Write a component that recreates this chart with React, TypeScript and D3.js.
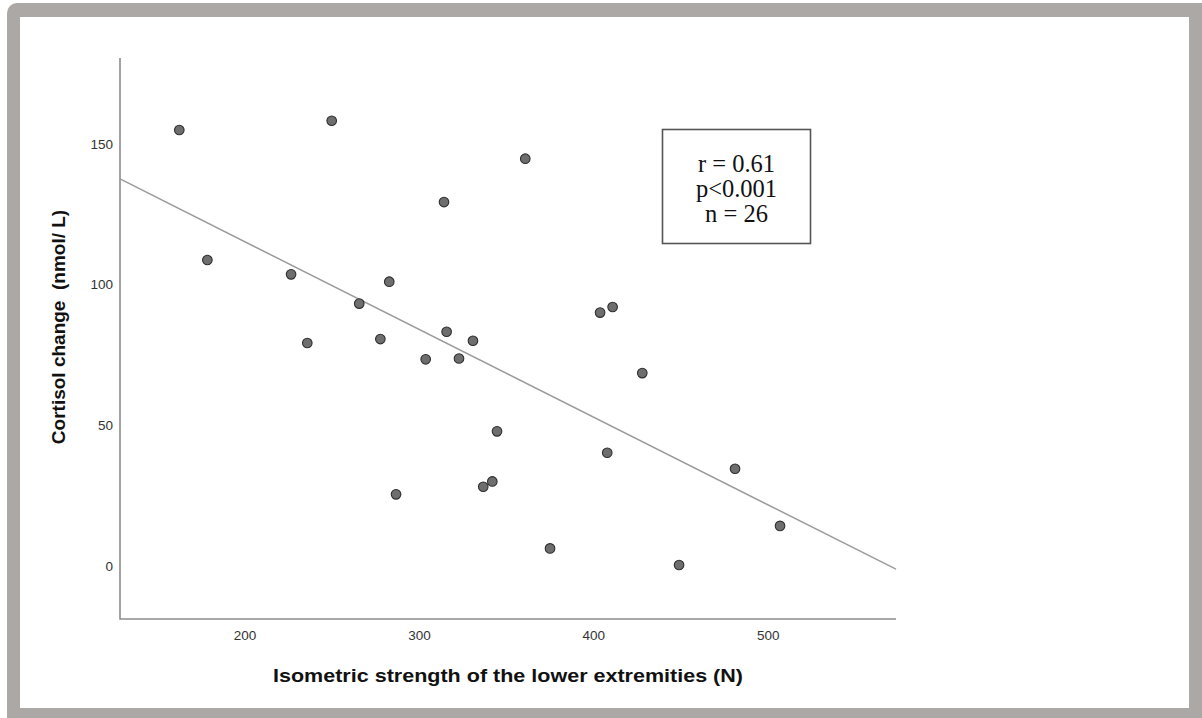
import React, { useMemo } from 'react';
import * as d3 from 'd3';

// values
const strength = [
  162.3, 249.7, 178.4, 226.4, 282.7, 265.5, 235.7, 277.6, 315.6, 330.7, 303.6, 322.7, 344.5,
  341.8, 336.6, 286.6, 360.7, 403.6, 410.8, 427.8, 407.7, 481.0, 506.8, 374.9, 448.9, 314.1,
];
const cortisol = [
  155.0, 158.3, 108.8, 103.7, 101.1, 93.3, 79.3, 80.7, 83.3, 80.1, 73.5, 73.8, 47.9,
  30.1, 28.2, 25.5, 144.8, 90.1, 92.1, 68.6, 40.3, 34.6, 14.3, 6.3, 0.4, 129.4,
];
const xTicks = [200, 300, 400, 500];
const yTicks = [0, 50, 100, 150];
const xDomain = [128.3, 573.3];
const yDomain = [-18.8, 180.6];
const fitIntercept = 177.6;
const fitSlope = -0.3117;
const statLines = ['r = 0.61', 'p<0.001', 'n = 26'];

const W = 1202;
const H = 718;
const sans = 'Arial, "Liberation Sans", Helvetica, sans-serif';

export default function App() {
  const chart = useMemo(() => {
    const x = d3.scaleLinear().domain(xDomain).range([120, 896]);
    const y = d3.scaleLinear().domain(yDomain).range([619, 58]);
    const points = strength.map((s, i) => ({ s, c: cortisol[i] }));
    const fit = d3.line<number>()
      .x((v) => x(v))
      .y((v) => y(fitIntercept + fitSlope * v))(xDomain);
    return { x, y, points, fit };
  }, []);

  const { x, y } = chart;

  return (
    <svg
      width={W}
      height={H}
      viewBox={`0 0 ${W} ${H}`}
      style={{ position: 'fixed', left: 0, top: 0, background: '#fff' }}
    >
      <rect x={7} y={3} width={1210} height={730} rx={10} fill="#aca8a6" />
      <rect x={20} y={17} width={1169} height={691} fill="#fff" />

      {/* axes */}
      <path d={`M${x(xDomain[0])},${y(yDomain[1])}V${y(yDomain[0])}H${x(xDomain[1])}`}
        fill="none" stroke="#8c8c8c" strokeWidth={1.6} />

      {xTicks.map((t) => (
        <text key={t} x={x(t)} y={635} dy="0.35em" textAnchor="middle"
          fontFamily={sans} fontSize={13.5} fill="#333">{t}</text>
      ))}
      {yTicks.map((t) => (
        <text key={t} x={113} y={y(t)} dy="0.35em" textAnchor="end"
          fontFamily={sans} fontSize={13.5} fill="#333">{t}</text>
      ))}

      <text x={273} y={675} dy="0.35em" fontFamily={sans}
        fontSize={19} fontWeight="bold" fill="#111"
        textLength={470} lengthAdjust="spacingAndGlyphs">
        Isometric strength of the lower extremities (N)
      </text>
      <text transform="translate(58,327) rotate(-90)" dy="0.35em" textAnchor="middle"
        fontFamily={sans} fontSize={19} fontWeight="bold" fill="#111" xmlSpace="preserve">
        {'Cortisol change  (nmol/ L)'}
      </text>

      {/* fit line */}
      <path d={chart.fit ?? ''} fill="none" stroke="#9b9b9b" strokeWidth={1.5} />

      {chart.points.map((p, i) => (
        <circle key={i} cx={x(p.s)} cy={y(p.c)} r={4.8}
          fill="#6e6e6e" stroke="#2e2e2e" strokeWidth={1.1} />
      ))}

      {/* stats box */}
      <rect x={662.5} y={129.5} width={148} height={114} fill="#fff" stroke="#555" strokeWidth={1.6} />
      {statLines.map((line, i) => (
        <text key={line} x={736.5} y={163 + i * 25} dy="0.35em" textAnchor="middle"
          fontFamily='"Liberation Serif", "Times New Roman", serif' fontSize={24.5} fill="#111">
          {line}
        </text>
      ))}
    </svg>
  );
}
